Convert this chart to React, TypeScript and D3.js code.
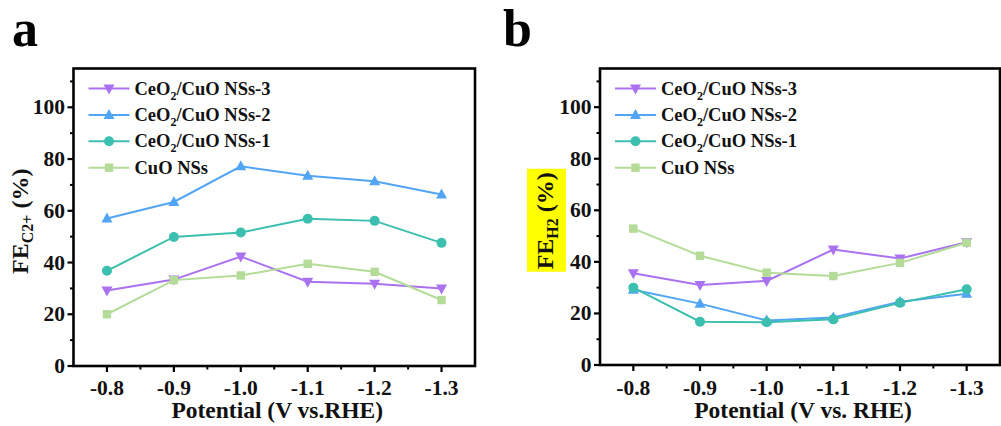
import React from "react";
import * as d3 from "d3";

const potentials = [-0.8, -0.9, -1.0, -1.1, -1.2, -1.3];
const xTickLabels = ["-0.8", "-0.9", "-1.0", "-1.1", "-1.2", "-1.3"];
const yTicks = [0, 20, 40, 60, 80, 100];
const yMinor = [10, 30, 50, 70, 90, 110];
const xMinor = [-0.85, -0.95, -1.05, -1.15, -1.25];

const seriesNames = ["CeO2/CuO NSs-3", "CeO2/CuO NSs-2", "CeO2/CuO NSs-1", "CuO NSs"];
const seriesColors = ["#aa72f0", "#52a5f5", "#3cbfae", "#b4dc98"];
const seriesMarkers = ["down", "up", "circle", "square"];

// Panel a: FE C2+
const c2NSs3 = [29.2, 33.4, 42.3, 32.6, 31.8, 30.0];
const c2NSs2 = [57.0, 63.4, 77.2, 73.5, 71.4, 66.3];
const c2NSs1 = [36.8, 49.9, 51.6, 56.9, 56.1, 47.6];
const c2CuO = [20.0, 33.2, 35.0, 39.5, 36.4, 25.5];

// Panel b: FE H2
const h2NSs3 = [35.6, 31.0, 32.6, 44.8, 41.3, 47.6];
const h2NSs2 = [29.2, 23.8, 17.3, 18.4, 24.5, 27.6];
const h2NSs1 = [30.0, 16.8, 16.6, 17.7, 24.1, 29.4];
const h2CuO = [52.9, 42.4, 35.8, 34.5, 39.6, 47.4];

const FONT = "'Liberation Serif', 'Times New Roman', serif";

function Marker({ type, x, y, color }: { type: string; x: number; y: number; color: string }) {
  if (type === "circle") return <circle cx={x} cy={y} r={5} fill={color} />;
  if (type === "square") return <rect x={x - 4.2} y={y - 4.2} width={8.4} height={8.4} fill={color} />;
  if (type === "up")
    return <path d={`M${x},${y - 6} L${x + 5.5},${y + 4} L${x - 5.5},${y + 4} Z`} fill={color} />;
  return <path d={`M${x},${y + 6} L${x + 5.5},${y - 4} L${x - 5.5},${y - 4} Z`} fill={color} />;
}

function LegendLabel({ name, x, y }: { name: string; x: number; y: number }) {
  if (name.startsWith("CeO2")) {
    const rest = name.slice(4);
    return (
      <text x={x} y={y} fontFamily={FONT} fontWeight="bold" fontSize={18.5} fill="#111">
        CeO
        <tspan fontSize={12} dy={5}>2</tspan>
        <tspan dy={-5}>{rest}</tspan>
      </text>
    );
  }
  return (
    <text x={x} y={y} fontFamily={FONT} fontWeight="bold" fontSize={18.5} fill="#111">
      {name}
    </text>
  );
}

function Panel({
  left, right, top, bottom, data, yTitleSub, xTitle, letter, letterX, titleX, highlight,
}: {
  left: number; right: number; top: number; bottom: number; data: number[][];
  yTitleSub: string; xTitle: string; letter: string; letterX: number; titleX: number; highlight: boolean;
}) {
  const x = d3.scaleLinear().domain([-0.75, -1.35]).range([left, right]);
  const y = d3.scaleLinear().domain([0, 115]).range([bottom, top]);
  const line = d3
    .line<number>()
    .x((_, i) => x(potentials[i]))
    .y((d) => y(d));
  const titleY = (top + bottom) / 2 + 4;
  const cx = (left + right) / 2;
  return (
    <g>
      <text x={letterX} y={46} fontFamily={FONT} fontWeight="bold" fontSize={52} fill="#000">
        {letter}
      </text>
      {highlight && (
        <rect x={titleX - 26} y={titleY - 52} width={39} height={103} fill="#ffff00" />
      )}
      {data.map((vals, si) => (
        <g key={si}>
          <path d={line(vals) || ""} fill="none" stroke={seriesColors[si]} strokeWidth={2} />
          {vals.map((v, i) => (
            <Marker key={i} type={seriesMarkers[si]} x={x(potentials[i])} y={y(v)} color={seriesColors[si]} />
          ))}
        </g>
      ))}
      {seriesNames.map((name, si) => {
        const ly = top + 20 + si * 26.4;
        const lx0 = left + 15;
        return (
          <g key={name}>
            <line x1={lx0} x2={lx0 + 41} y1={ly} y2={ly} stroke={seriesColors[si]} strokeWidth={2} />
            <Marker type={seriesMarkers[si]} x={lx0 + 20.5} y={ly} color={seriesColors[si]} />
            <LegendLabel name={name} x={lx0 + 46} y={ly + 6} />
          </g>
        );
      })}
      <rect x={left} y={top} width={right - left} height={bottom - top} fill="none" stroke="#000" strokeWidth={2.6} />
      {yTicks.map((t) => (
        <g key={t}>
          <line x1={left - 6} x2={left} y1={y(t)} y2={y(t)} stroke="#000" strokeWidth={2.2} />
          <text x={left - 8.5} y={y(t) + 7} textAnchor="end" fontFamily={FONT} fontWeight="bold" fontSize={21.5} fill="#111">
            {t}
          </text>
        </g>
      ))}
      {yMinor.map((t) => (
        <line key={t} x1={left - 3.5} x2={left} y1={y(t)} y2={y(t)} stroke="#000" strokeWidth={2} />
      ))}
      {potentials.map((p, i) => (
        <g key={p}>
          <line x1={x(p)} x2={x(p)} y1={bottom} y2={bottom + 6} stroke="#000" strokeWidth={2.2} />
          <text x={x(p)} y={395} textAnchor="middle" fontFamily={FONT} fontWeight="bold" fontSize={21.5} fill="#111">
            {xTickLabels[i]}
          </text>
        </g>
      ))}
      {xMinor.map((p) => (
        <line key={p} x1={x(p)} x2={x(p)} y1={bottom} y2={bottom + 3.5} stroke="#000" strokeWidth={2} />
      ))}
      <text x={cx + 3} y={417.5} textAnchor="middle" fontFamily={FONT} fontWeight="bold" fontSize={23.5} fill="#111">
        {xTitle}
      </text>
      <text
        transform={`translate(${titleX},${titleY}) rotate(-90)`}
        textAnchor="middle"
        fontFamily={FONT}
        fontWeight="bold"
        fontSize={24}
        fill="#111"
      >
        FE
        <tspan fontSize={16} dy={5}>{yTitleSub}</tspan>
        <tspan dy={-5}> (%)</tspan>
      </text>
    </g>
  );
}

export default function App() {
  return (
    <svg
      width={1001}
      height={426}
      viewBox="0 0 1001 426"
      style={{ position: "absolute", left: 0, top: 0, background: "#fff" }}
    >
      <rect width={1001} height={426} fill="#fff" />
      <Panel
        left={73.5}
        right={475}
        top={68.5}
        bottom={366}
        data={[c2NSs3, c2NSs2, c2NSs1, c2CuO]}
        yTitleSub="C2+"
        xTitle="Potential (V vs.RHE)"
        letter="a"
        letterX={12}
        titleX={28}
        highlight={false}
      />
      <Panel
        left={600}
        right={1000}
        top={68.5}
        bottom={365}
        data={[h2NSs3, h2NSs2, h2NSs1, h2CuO]}
        yTitleSub="H2"
        xTitle="Potential (V vs. RHE)"
        letter="b"
        letterX={503}
        titleX={553}
        highlight={true}
      />
    </svg>
  );
}
